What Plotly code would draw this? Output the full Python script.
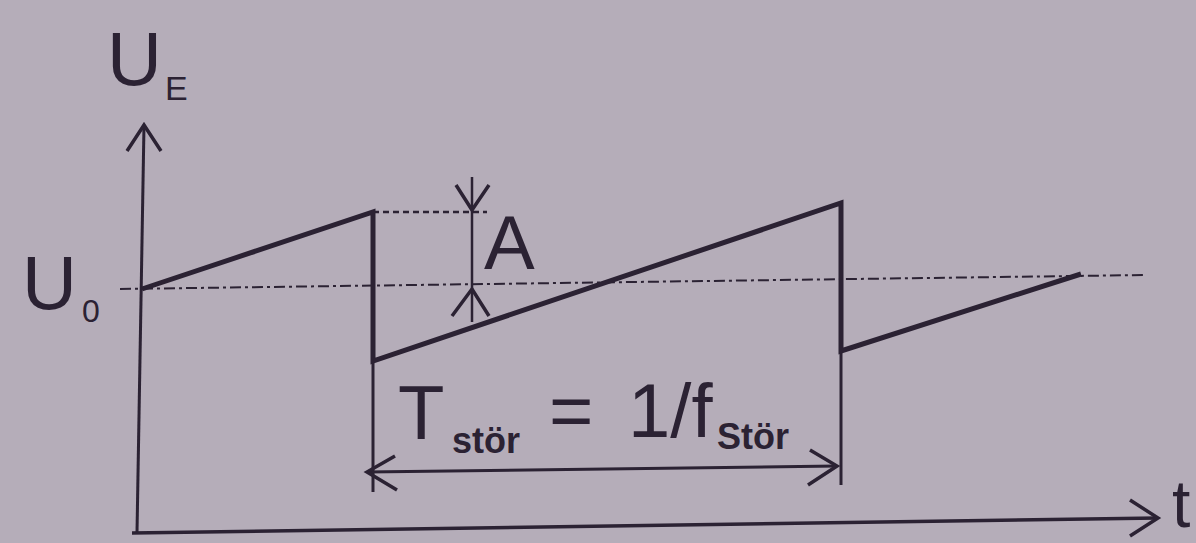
import plotly.graph_objects as go

# everything in pixel units (x to the right, y downward)
INK = "#2b2233"
BG = "#b5adb9"

# sawtooth U_E(t)
saw_t = [142, 373, 373, 841, 841, 1081]
saw_u = [289, 212, 361, 203, 351, 274]

# period marker lines below the jumps
mark_t = [373, 841]
mark_top = [361, 351]
mark_bottom = [492, 485]

# axes (start, end)
yaxis_t = [137, 144]
yaxis_u = [533, 125]
xaxis_t = [132, 1158]
xaxis_u = [533, 518]

# U0 reference (dash-dot) and peak level (dotted)
ref_t = [120, 1145]
ref_u = [289, 275]
peak_t = [373, 487]
peak_u = [212, 212]

# amplitude arrow A
amp_t = [472, 472]
amp_u = [177, 322]

# period arrow T
per_t = [367, 837]
per_u = [472, 466]

# arrow heads: tip and the two arm ends
heads = [
    ((144, 125), (127, 151), (161, 151)),   # U_E axis
    ((1158, 518), (1130, 500), (1130, 536)),  # t axis
    ((472, 210), (456, 185), (489, 185)),   # A top, pointing down
    ((472, 289), (452, 316), (489, 316)),   # A bottom, pointing up
    ((367, 472), (395, 456), (397, 490)),   # T left
    ((837, 466), (810, 450), (808, 485)),   # T right
]

# labels: text, x, y, size, bold
labels = [
    ("U", 134, 58, 76, False),
    ("E", 176, 88, 34, False),
    ("U", 49, 282, 76, False),
    ("0", 91, 311, 32, False),
    ("A", 509, 242, 76, False),
    ("T", 421, 412, 76, False),
    ("stör", 486, 440, 36, True),
    ("=", 571, 410, 76, False),
    ("1/f", 670, 410, 76, False),
    ("Stör", 753, 436, 36, True),
    ("t", 1181, 504, 66, False),
]


def line(x, y, width, dash="solid"):
    return go.Scatter(x=x, y=y, mode="lines", hoverinfo="skip",
                      line=dict(color=INK, width=width, dash=dash))


fig = go.Figure()
fig.add_trace(line(yaxis_t, yaxis_u, 3))
fig.add_trace(line(xaxis_t, xaxis_u, 3.5))
fig.add_trace(line(ref_t, ref_u, 2, "11px,4px,3px,4px"))
fig.add_trace(line(peak_t, peak_u, 2.5, "6px,4px"))
for t, top, bot in zip(mark_t, mark_top, mark_bottom):
    fig.add_trace(line([t, t], [top, bot], 3))
fig.add_trace(line(saw_t, saw_u, 5))
fig.add_trace(line(amp_t, amp_u, 2.5))
fig.add_trace(line(per_t, per_u, 3))
for tip, a1, a2 in heads:
    fig.add_trace(line([a1[0], tip[0], a2[0]], [a1[1], tip[1], a2[1]], 3.5))

for text, x, y, size, bold in labels:
    fig.add_annotation(x=x, y=y, text=f"<b>{text}</b>" if bold else text,
                       showarrow=False, xanchor="center", yanchor="middle",
                       font=dict(family="Liberation Sans, Arial", size=size, color=INK))

fig.update_layout(
    width=1196, height=543,
    margin=dict(l=0, r=0, t=0, b=0),
    paper_bgcolor=BG, plot_bgcolor=BG,
    showlegend=False,
    xaxis=dict(range=[0, 1196], visible=False, fixedrange=True),
    yaxis=dict(range=[543, 0], visible=False, fixedrange=True),
)
# drop the browser's default page margin so the figure fills the window
fig.write_html("out.html", config={"displayModeBar": False},
               post_script="document.body.style.margin='0';"
                           "document.body.style.overflow='hidden';"
                           f"document.body.style.background='{BG}';")
